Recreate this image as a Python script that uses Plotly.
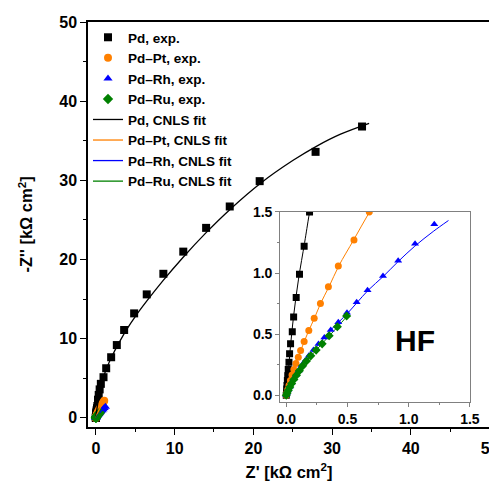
import plotly.graph_objects as go

# ---- data (kΩ cm²) ----
pd_x = [33.8, 27.9, 20.8, 17.0, 14.0, 11.1, 8.57, 6.46, 4.86, 3.59, 2.66, 1.94, 1.31, 0.97, 0.63,
        0.48, 0.36, 0.27, 0.19, 0.146, 0.108, 0.081, 0.06, 0.049, 0.035, 0.027, 0.022, 0.016,
        0.012, 0.009, 0.006, 0.004, 0.002, 0.0]
pd_y = [36.8, 33.6, 29.9, 26.7, 24.0, 21.0, 18.2, 15.6, 13.2, 11.1, 9.2, 7.66, 6.27, 5.14, 4.3,
        3.6, 2.9, 2.3, 1.5, 1.22, 0.99, 0.80, 0.64, 0.52, 0.42, 0.34, 0.27, 0.21,
        0.16, 0.12, 0.08, 0.05, 0.02, 0.0]

pt_x = [1.06, 0.93, 0.80, 0.678, 0.553, 0.425, 0.344, 0.279, 0.228, 0.184, 0.146, 0.117, 0.098,
        0.079, 0.062, 0.047, 0.034, 0.022, 0.012, 0.005, 0.0]
pt_y = [2.15, 1.95, 1.72, 1.50, 1.27, 1.057, 0.888, 0.75, 0.63, 0.53, 0.44, 0.366, 0.31,
        0.26, 0.21, 0.165, 0.12, 0.08, 0.045, 0.02, 0.0]

rh_x = [1.209, 1.052, 0.914, 0.79, 0.664, 0.575, 0.496, 0.425, 0.363, 0.311, 0.263, 0.222, 0.184,
        0.152, 0.124, 0.10, 0.078, 0.058, 0.042, 0.028, 0.016, 0.007, 0.0]
rh_y = [1.40, 1.24, 1.10, 0.975, 0.858, 0.76, 0.675, 0.598, 0.533, 0.473, 0.418, 0.369, 0.322,
        0.28, 0.24, 0.20, 0.165, 0.13, 0.10, 0.07, 0.045, 0.02, 0.0]

ru_x = [0.493, 0.417, 0.35, 0.293, 0.244, 0.20, 0.165, 0.134, 0.107, 0.083, 0.062, 0.044, 0.029,
        0.017, 0.007, 0.0]
ru_y = [0.648, 0.56, 0.486, 0.42, 0.369, 0.322, 0.28, 0.24, 0.20, 0.163, 0.128, 0.095, 0.066,
        0.04, 0.018, 0.0]

pdfit_x = [0, 0.01, 0.03, 0.06, 0.10, 0.15, 0.19, 0.4, 0.7, 1.0, 1.5, 2.0, 3.0, 4.0, 5.0, 6.5,
           8.5, 11, 14, 17, 21, 25, 28, 31, 34.7]
pdfit_y = [0, 0.10, 0.35, 0.65, 0.95, 1.25, 1.5, 2.8, 4.3, 5.3, 6.6, 7.7, 9.6, 11.3, 12.8, 14.8,
           17.3, 20.2, 23.4, 26.3, 29.7, 32.5, 34.3, 35.8, 37.2]

ptfit_x = [0, 0.02, 0.05, 0.08, 0.12, 0.18, 0.23, 0.28, 0.35, 0.43, 0.55, 0.68, 0.82, 0.95, 1.08]
ptfit_y = [0, 0.07, 0.17, 0.26, 0.37, 0.52, 0.63, 0.75, 0.89, 1.06, 1.27, 1.5, 1.73, 1.95, 2.15]

rhfit_x = [0, 0.02, 0.05, 0.10, 0.15, 0.20, 0.27, 0.35, 0.43, 0.50, 0.58, 0.67, 0.79, 0.91, 1.05,
           1.20, 1.325]
rhfit_y = [0, 0.04, 0.10, 0.19, 0.27, 0.34, 0.42, 0.52, 0.60, 0.67, 0.76, 0.86, 0.97, 1.09, 1.22,
           1.34, 1.43]

rufit_x = [0, 0.02, 0.05, 0.10, 0.15, 0.20, 0.25, 0.30, 0.36, 0.42, 0.50]
rufit_y = [0, 0.045, 0.11, 0.195, 0.265, 0.32, 0.375, 0.43, 0.495, 0.56, 0.65]

names_exp = ["Pd, exp.", "Pd\u2013Pt, exp.", "Pd\u2013Rh, exp.", "Pd\u2013Ru, exp."]
names_fit = ["Pd, CNLS fit", "Pd\u2013Pt, CNLS fit", "Pd\u2013Rh, CNLS fit", "Pd\u2013Ru, CNLS fit"]

colors = ["#000000", "#FF8000", "#0000FF", "#008000"]
symbols = ["square", "circle", "triangle-up", "diamond"]
exp_data = [(pd_x, pd_y), (pt_x, pt_y), (rh_x, rh_y), (ru_x, ru_y)]
fit_data = [(pdfit_x, pdfit_y), (ptfit_x, ptfit_y), (rhfit_x, rhfit_y), (rufit_x, rufit_y)]

FONT = "Liberation Sans"
fig = go.Figure()

for (x, y), n, c, s in zip(exp_data, names_exp, colors, symbols):
    fig.add_trace(go.Scatter(x=x, y=y, mode="markers", name=n,
                             marker=dict(symbol=s, color=c, size=8, line=dict(width=0)),
                             xaxis="x", yaxis="y"))
for (x, y), n, c in zip(fit_data, names_fit, colors):
    fig.add_trace(go.Scatter(x=x, y=y, mode="lines", name=n,
                             line=dict(color=c, width=1.3), line_shape="spline",
                             xaxis="x", yaxis="y"))
for (x, y), c in zip(fit_data, colors):
    fig.add_trace(go.Scatter(x=x, y=y, mode="lines", showlegend=False,
                             line=dict(color=c, width=1), line_shape="spline",
                             xaxis="x2", yaxis="y2"))
for (x, y), c, s in zip(exp_data, colors, symbols):
    fig.add_trace(go.Scatter(x=x, y=y, mode="markers", showlegend=False,
                             marker=dict(symbol=s, color=c, size=7, line=dict(width=0)),
                             xaxis="x2", yaxis="y2"))

tickfont = dict(family=FONT, size=16, color="black", weight="bold")
insetfont = dict(family=FONT, size=14, color="black", weight="bold")
titlefont = dict(family=FONT, size=16.5, color="black", weight="bold")

# page body has an 8 px margin, so the figure is sized to fit the 497x483 window
fig.update_layout(
    width=489, height=475,
    margin=dict(l=80, r=7, t=14, b=56, autoexpand=False),
    paper_bgcolor="white", plot_bgcolor="white",
    font=dict(family=FONT, color="black"),
    showlegend=True,
    legend=dict(x=0.0, y=1.0, xanchor="left", yanchor="top",
                bgcolor="rgba(0,0,0,0)", borderwidth=0,
                font=dict(family=FONT, size=13.5, color="black", weight="bold"),
                tracegroupgap=0, itemwidth=30),
    xaxis=dict(range=[-1, 50.05], domain=[0, 1], anchor="y", automargin=False,
               showgrid=False, zeroline=False, ticklabeloverflow="allow",
               showline=True, linecolor="black", linewidth=1.5, mirror=True,
               ticks="outside", ticklen=6, tickwidth=1.2, tickcolor="black",
               tickmode="array", tickvals=[0, 10, 20, 30, 40, 50],
               minor=dict(ticks="outside", ticklen=3, tickvals=[5, 15, 25, 35, 45], tickcolor="black"),
               tickfont=tickfont,
               title=dict(text="Z' [k\u03a9 cm<sup>2</sup>]", font=titlefont, standoff=10)),
    yaxis=dict(range=[-1.15, 50], domain=[0, 1], anchor="x", automargin=False,
               showgrid=False, zeroline=False, ticklabeloverflow="allow",
               showline=True, linecolor="black", linewidth=1.5, mirror=True,
               ticks="outside", ticklen=6, tickwidth=1.2, tickcolor="black",
               tickmode="array", tickvals=[0, 10, 20, 30, 40, 50],
               minor=dict(ticks="outside", ticklen=3, tickvals=[5, 15, 25, 35, 45], tickcolor="black"),
               tickfont=tickfont,
               title=dict(text="-Z'' [k\u03a9 cm<sup>2</sup>]", font=titlefont, standoff=22)),
    xaxis2=dict(range=[-0.05, 1.5], domain=[0.478, 0.950], anchor="y2", automargin=False,
                showgrid=False, zeroline=False, ticklabeloverflow="allow",
                showline=True, linecolor="#808080", linewidth=1, mirror=True,
                ticks="outside", ticklen=4, tickcolor="#808080",
                tickmode="array", tickvals=[0, 0.5, 1.0, 1.5],
                ticktext=["0.0", "0.5", "1.0", "1.5"],
                minor=dict(ticks="outside", ticklen=2, tickvals=[0.25, 0.75, 1.25], tickcolor="#808080"),
                tickfont=insetfont),
    yaxis2=dict(range=[-0.055, 1.5], domain=[0.062, 0.531], anchor="x2", automargin=False,
                showgrid=False, zeroline=False, ticklabeloverflow="allow",
                showline=True, linecolor="#808080", linewidth=1, mirror=True,
                ticks="outside", ticklen=4, tickcolor="#808080",
                tickmode="array", tickvals=[0, 0.5, 1.0, 1.5],
                ticktext=["0.0", "0.5", "1.0", "1.5"],
                minor=dict(ticks="outside", ticklen=2, tickvals=[0.25, 0.75, 1.25], tickcolor="#808080"),
                tickfont=insetfont),
    annotations=[dict(text="HF", x=1.05, y=0.45, xref="x2", yref="y2",
                      showarrow=False,
                      font=dict(family=FONT, size=30, color="black", weight="bold"))],
)

fig.write_html("out.html")
